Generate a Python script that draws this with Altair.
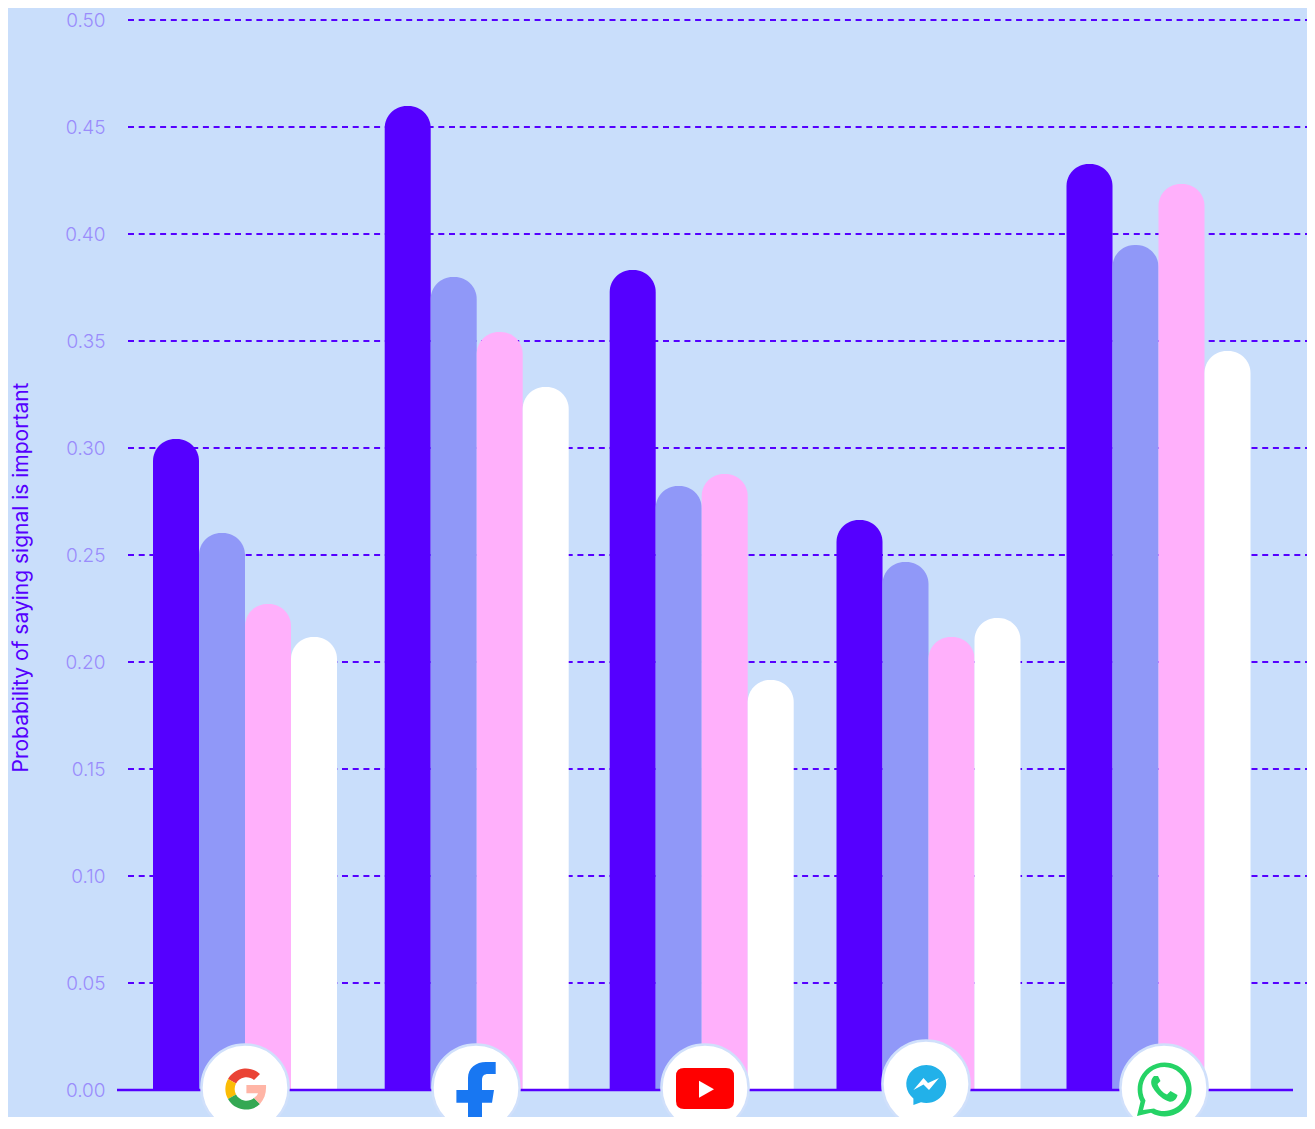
import altair as alt
import pandas as pd

platforms = ["Google", "Facebook", "YouTube", "Messenger", "WhatsApp"]
series = ["Series 1", "Series 2", "Series 3", "Series 4"]
series_1 = [0.3042, 0.4598, 0.3832, 0.2664, 0.4327]
series_2 = [0.2603, 0.3799, 0.2822, 0.2467, 0.3949]
series_3 = [0.2271, 0.3542, 0.2879, 0.2117, 0.4234]
series_4 = [0.2117, 0.3285, 0.1916, 0.2206, 0.3453]
ticks = [0.05, 0.10, 0.15, 0.20, 0.25, 0.30, 0.35, 0.40, 0.45, 0.50]
axis_ticks = [0.0] + ticks

BG = "#c9defb"
PURPLE = "#5500ff"
colors = [PURPLE, "#9098f8", "#ffb0fb", "#ffffff"]
bar_shift = [-69, -23, 23, 69]

idx_domain = list(range(len(platforms)))

# icon glyphs: (platform index, svg path in px around the badge centre, fill)
icon_parts = [
    (0, "M -17,-9 A 20.5 20.5 0 0 1 15,-14 L 9,-8 A 12 12 0 0 0 -9,-4.5 Z", "#ea4335"),
    (0, "M -17,-9 A 20.5 20.5 0 0 0 -17,11 L -9,6.5 A 12 12 0 0 1 -9,-4.5 Z", "#fbbc05"),
    (0, "M -17,11 A 20.5 20.5 0 0 0 15,16 L 9,10 A 12 12 0 0 1 -9,6.5 Z", "#34a853"),
    (0, "M 1.4,-3 L 21,-3 C 21.5,5 19.5,11 15,16 L 9,10 C 11,8.5 12.5,7 13,5.3 L 1.4,5.3 Z", "#ffb5a6"),
    (1, "M 19.7,-26 L 19.7,-14 L 12,-14 C 8,-14 6,-12 6,-8 L 6,2 L 18,2 L 16,14.7 L 6,14.7 L 6,41 L -8,41 L -8,14.7 L -19.6,14.7 L -19.6,2 L -8,2 L -8,-10 C -8,-20 0,-26 10,-26 Z", "#1877f2"),
    (2, "M -21,-20 L 21,-20 Q 29,-20 29,-12 L 29,13 Q 29,21 21,21 L -21,21 Q -29,21 -29,13 L -29,-12 Q -29,-20 -21,-20 Z", "#ff0000"),
    (2, "M -6,-7.3 L 9,1.2 L -6,9.7 Z", "#ffffff"),
    (3, "M -12.6,14.5 A 20 19 0 1 1 -5,18.3 L -12.6,21 Z", "#22b1e9"),
    (3, "M -12.6,6 L -2.5,-6 L 2,-1 L 13,-6 L 3,6 L -2.5,0.5 Z", "#ffffff"),
    (4, "M -27,28 L -23.5,13.5 A 27 27 0 1 1 -13,24.7 Z", "#25d366"),
    (4, "M -21,22 L -18.5,12.5 A 22 22 0 1 1 -10,20.5 Z", "#ffffff"),
    (4, "M -10,-12 C -13,-9 -14,-5 -11,0 C -7,7 0,12 5,13.5 C 9,14.5 13,11 13.5,7 L 6.5,3 L 3,6.5 C -1,5 -5,1 -6.5,-4 L -3.5,-7 L -6,-12 Z", "#25d366"),
]
parts_df = pd.DataFrame(icon_parts, columns=["idx", "path", "fill"])
parts_df["order"] = range(len(parts_df))
badge_df = pd.DataFrame({"idx": idx_domain})

y_scale = alt.Scale(domain=[0, 0.5], range=[1070, 0], nice=False, zero=False)
group_scale = alt.Scale(domain=idx_domain, range=[128, 359.7, 584.7, 811.5, 1041.5], zero=False, nice=False, padding=0)
badge_x = alt.Scale(domain=idx_domain, range=[128, 359, 588, 809, 1047], zero=False, nice=False, padding=0)
badge_y = alt.Scale(domain=idx_domain, range=[1068, 1068, 1068, 1064, 1068], zero=False, nice=False, padding=0)

grid = alt.Chart(pd.DataFrame({"v": ticks})).mark_rule(
    color=PURPLE, strokeWidth=2, strokeDash=[6, 4.7]
).encode(
    x=alt.value(11), x2=alt.value(1190),
    y=alt.Y("v:Q", scale=y_scale, axis=alt.Axis(
        values=axis_ticks, format=".2f", title="Probability of saying signal is important",
        domain=False, ticks=False, grid=False, labelPadding=12,
        labelColor="#9a8cfb", labelFont="Inter", labelFontSize=19, labelFontWeight=300,
        titleColor=PURPLE, titleFont="Inter", titleFontSize=21, titleFontWeight=400,
        titleX=-96, titleY=557, titleAngle=270, titleAlign="center", titleBaseline="middle",
    )),
)

bar_layers = []
for name, vals, color, shift in zip(series, [series_1, series_2, series_3, series_4], colors, bar_shift):
    df = pd.DataFrame({"idx": idx_domain, "platform": platforms, "series": name, "value": vals})
    bar_layers.append(
        alt.Chart(df).mark_bar(
            size=46, cornerRadiusTopLeft=22, cornerRadiusTopRight=22, color=color, xOffset=shift
        ).encode(
            x=alt.X("idx:Q", scale=group_scale, axis=None),
            y=alt.Y("value:Q", scale=y_scale, stack=None),
        )
    )

baseline = alt.Chart(pd.DataFrame({"v": [0.0]})).mark_rule(color=PURPLE, strokeWidth=2.5).encode(
    x=alt.value(0), x2=alt.value(1176), y=alt.Y("v:Q", scale=y_scale)
)

plot = alt.layer(grid, *bar_layers, baseline)

badges = alt.Chart(badge_df).mark_point(
    shape="circle", filled=True, fill="#ffffff", stroke="#d0e0fb", strokeWidth=2.5, size=7600, opacity=1
).encode(
    x=alt.X("idx:Q", scale=badge_x, axis=None),
    y=alt.Y("idx:Q", scale=badge_y, axis=None),
)

glyphs = alt.Chart(parts_df).mark_point(filled=True, size=4, opacity=1, strokeWidth=0).encode(
    x=alt.X("idx:Q", scale=badge_x, axis=None),
    y=alt.Y("idx:Q", scale=badge_y, axis=None),
    shape=alt.Shape("path:N", scale=None),
    fill=alt.Fill("fill:N", scale=None),
    order=alt.Order("order:Q"),
)

icons = alt.layer(badges, glyphs)

chart = alt.layer(plot, icons).resolve_scale(
    x="independent", y="independent", fill="independent", shape="independent"
).properties(
    width=1190, height=1070, background=BG,
    padding={"left": 109, "top": 12, "right": 0, "bottom": 27},
    autosize=alt.AutoSizeParams(type="none"),
).configure_view(stroke=None)

chart.save("out.html", embed_options={"renderer": "svg", "actions": False})
